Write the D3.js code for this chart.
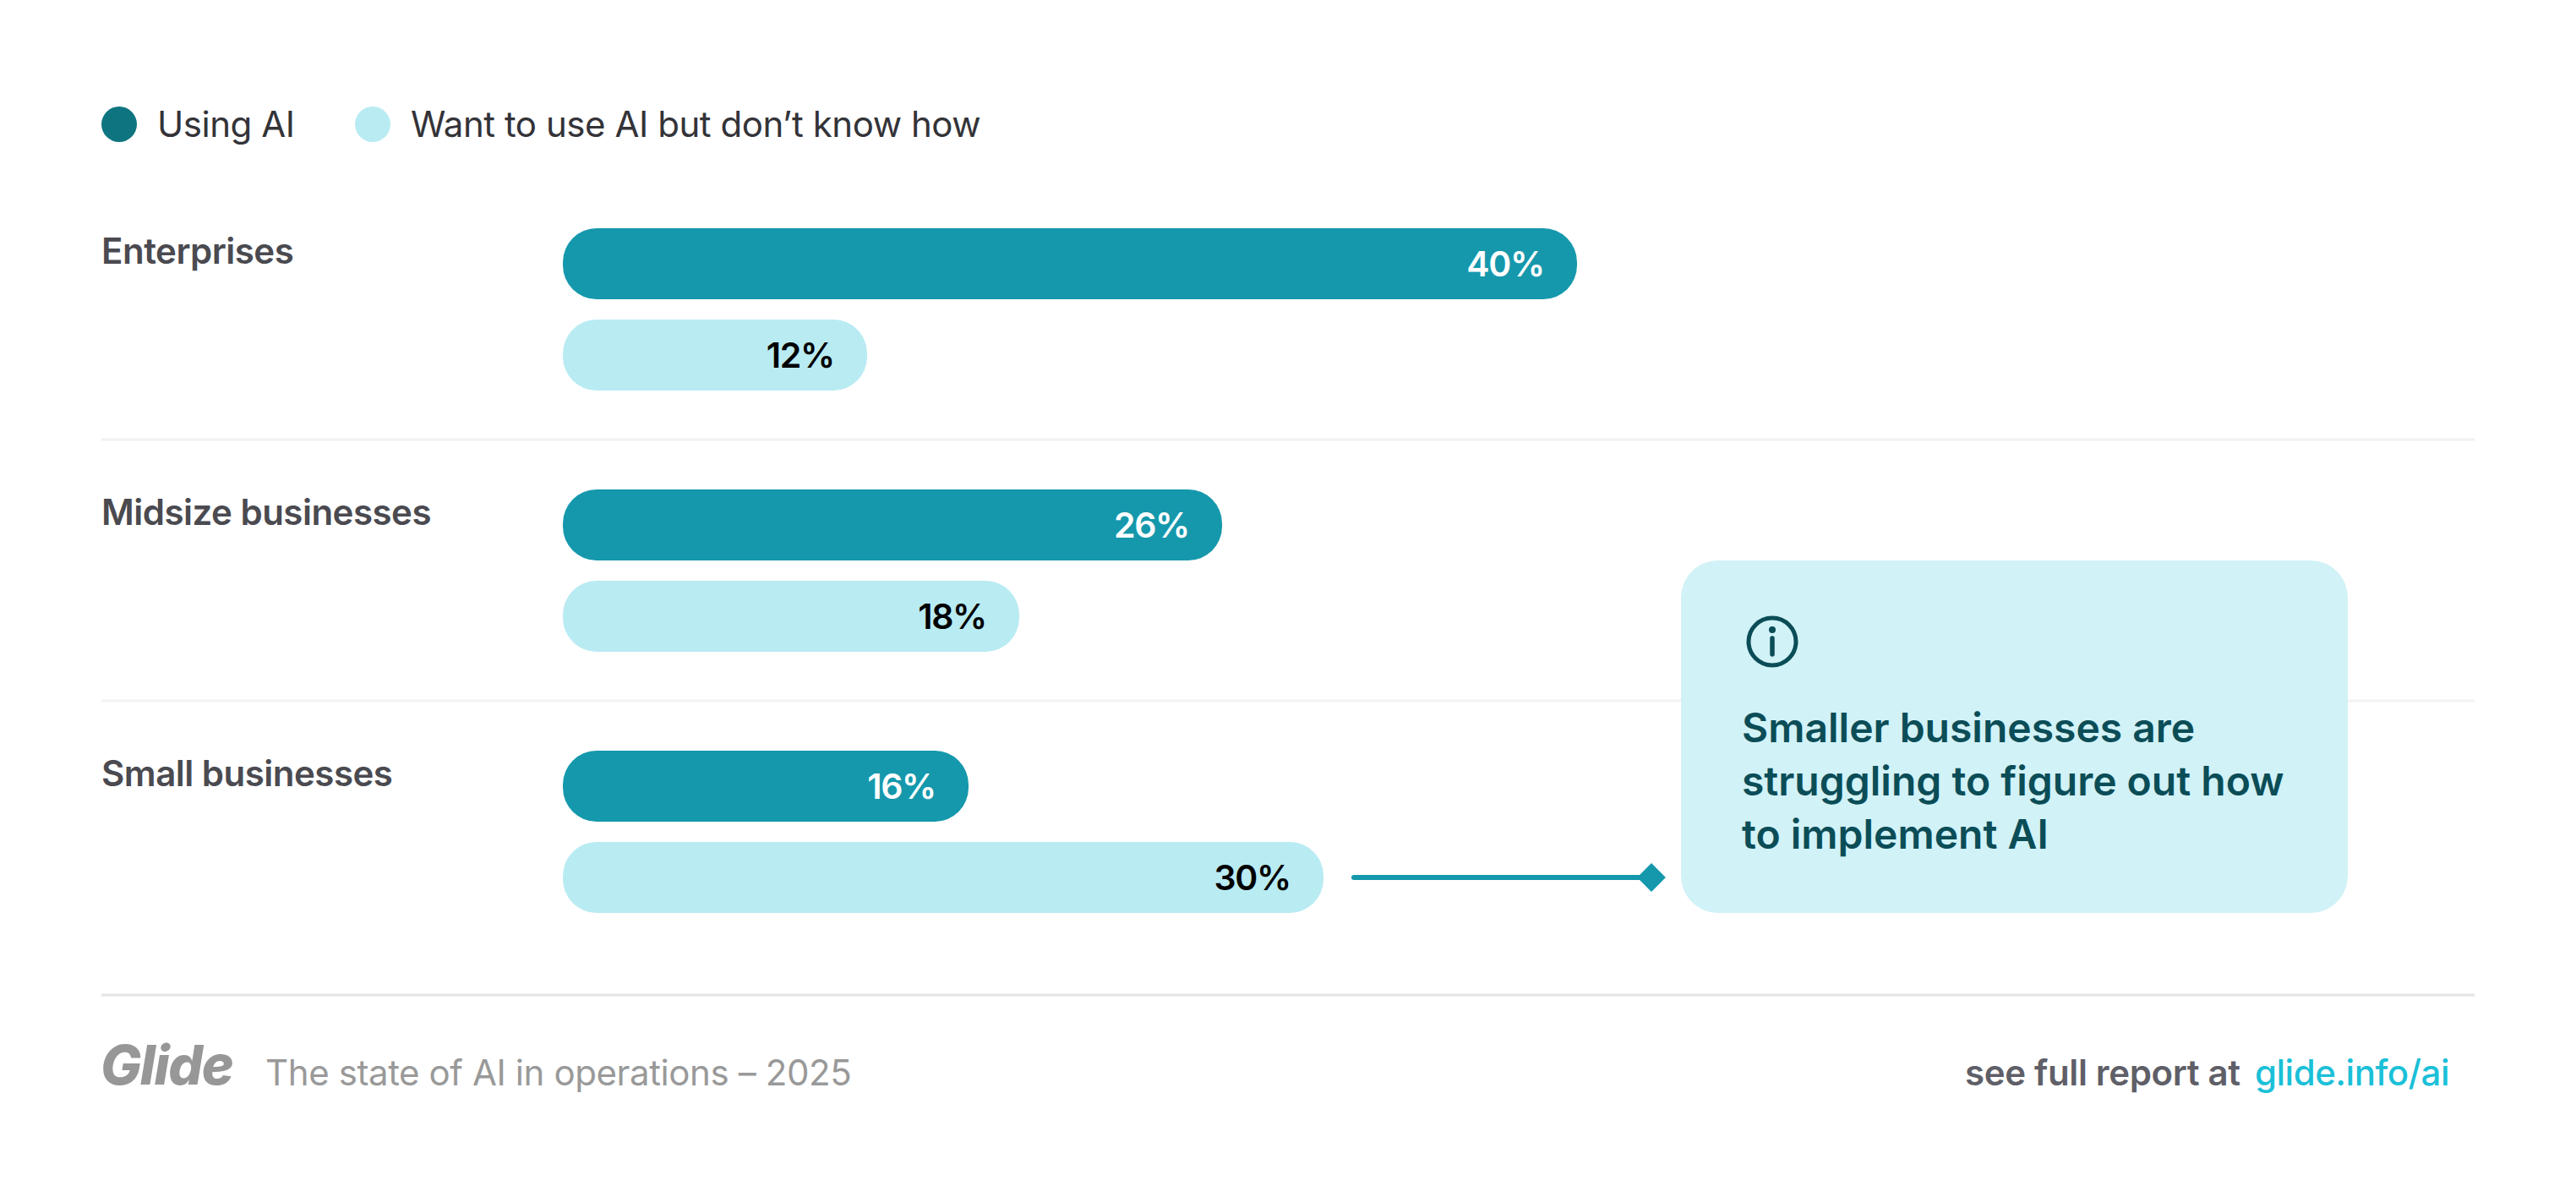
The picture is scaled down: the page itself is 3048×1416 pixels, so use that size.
<!DOCTYPE html>
<html lang="en">

<head>
    <meta charset="UTF-8">
    <script src="https://d3js.org/d3.v7.min.js"></script>
    <title>The state of AI in operations</title>
    <style>
        body {
            margin: 0;
            padding: 0;
            background-color: #fff;
        }

        svg {
            display: block;
        }

        text {
            font-family: Inter, "Noto Sans", sans-serif;
        }
    </style>
</head>

<body>
    <div id="chart"></div>

    <script>
        let categories = ["Enterprises", "Midsize businesses", "Small businesses"]
        let seriesNames = ["Using AI", "Want to use AI but don’t know how"]
        let usingAi = [40, 26, 16]
        let wantToUse = [12, 18, 30]
        let calloutLines = ["Smaller businesses are", "struggling to figure out how", "to implement AI"]

        let width = 3048
        let height = 1416

        let svg = d3.select("#chart").append("svg")
            .attr("width", width)
            .attr("height", height)

        let xScale = d3.scaleLinear().domain([0, 40]).range([666, 1866])
        let rowScale = d3.scalePoint().domain(categories).range([270, 888])
        let barScale = d3.scaleBand().domain(seriesNames).range([0, 192]).paddingInner(2 / 9)

        let barColors = d3.scaleOrdinal().domain(seriesNames).range(["#1598ac", "#b9ebf3"])
        let valueColors = d3.scaleOrdinal().domain(seriesNames).range(["#ffffff", "#000000"])
        let legendColors = d3.scaleOrdinal().domain(seriesNames).range(["#0e7480", "#b9ebf3"])

        // legend
        let legendX = [141, 441]
        let legend = svg.append("g").selectAll("g").data(seriesNames).enter().append("g")
            .attr("transform", (d, i) => "translate(" + legendX[i] + ",147)")
        legend.append("circle").attr("r", 21).attr("fill", d => legendColors(d))
        legend.append("text").text(d => d)
            .attr("x", 45).attr("y", 15)
            .attr("font-size", 42).attr("letter-spacing", -0.45).attr("fill", "#333338")

        // row separators
        svg.append("g").selectAll("line").data(categories.slice(1)).enter().append("line")
            .attr("x1", 120).attr("x2", 2928)
            .attr("y1", d => rowScale(d) - 59).attr("y2", d => rowScale(d) - 59)
            .attr("stroke", "#f2f2f2").attr("stroke-width", 3)

        // row labels
        svg.append("g").selectAll("text").data(categories).enter().append("text")
            .text(d => d)
            .attr("x", 120).attr("y", d => rowScale(d) + 42)
            .attr("font-size", 42).attr("font-weight", 600).attr("letter-spacing", -0.5).attr("fill", "#4a4a50")

        // bars
        let rows = categories.map((c, i) => [
            { category: c, series: seriesNames[0], value: usingAi[i] },
            { category: c, series: seriesNames[1], value: wantToUse[i] }
        ]).flat()

        let bars = svg.append("g").selectAll("g").data(rows).enter().append("g")
            .attr("transform", d => "translate(0," + (rowScale(d.category) + barScale(d.series)) + ")")

        bars.append("rect")
            .attr("x", xScale(0))
            .attr("width", d => xScale(d.value) - xScale(0))
            .attr("height", barScale.bandwidth())
            .attr("rx", 40)
            .attr("fill", d => barColors(d.series))

        bars.append("text").text(d => d.value + "%")
            .attr("x", d => xScale(d.value) - 39)
            .attr("y", 57)
            .attr("text-anchor", "end")
            .attr("font-size", 41).attr("font-weight", 600).attr("letter-spacing", -1.3)
            .attr("fill", d => valueColors(d.series))

        // callout
        let lineY = 1038
        svg.append("line")
            .attr("x1", 1602).attr("x2", 1954)
            .attr("y1", lineY).attr("y2", lineY)
            .attr("stroke", "#1598ac").attr("stroke-width", 6).attr("stroke-linecap", "round")
        svg.append("path")
            .attr("d", d3.symbol().type(d3.symbolSquare).size(570))
            .attr("transform", "translate(1954," + lineY + ") rotate(45)")
            .attr("fill", "#1598ac")

        svg.append("rect")
            .attr("x", 1989).attr("y", 663)
            .attr("width", 789).attr("height", 417)
            .attr("rx", 44)
            .attr("fill", "#d1f2f7")

        let info = svg.append("g").attr("transform", "translate(2097,759)")
        info.append("circle").attr("r", 28).attr("fill", "none").attr("stroke", "#0b4d57").attr("stroke-width", 5)
        info.append("circle").attr("cy", -14).attr("r", 4).attr("fill", "#0b4d57")
        info.append("line").attr("y1", -4).attr("y2", 15)
            .attr("stroke", "#0b4d57").attr("stroke-width", 5.5).attr("stroke-linecap", "round")

        svg.append("g").selectAll("text").data(calloutLines).enter().append("text")
            .text(d => d)
            .attr("x", 2061).attr("y", (d, i) => 878 + i * 63)
            .attr("font-size", 48).attr("font-weight", 600).attr("fill", "#0b4d57")

        // footer
        svg.append("line")
            .attr("x1", 120).attr("x2", 2928)
            .attr("y1", 1177).attr("y2", 1177)
            .attr("stroke", "#e4e4e4").attr("stroke-width", 3)

        svg.append("text").text("Glide")
            .attr("x", 119).attr("y", 1283)
            .attr("font-size", 64).attr("font-weight", 800).attr("font-style", "italic")
            .attr("letter-spacing", -1.4).attr("fill", "#979797")

        svg.append("text").text("The state of AI in operations – 2025")
            .attr("x", 314).attr("y", 1284)
            .attr("font-size", 42).attr("letter-spacing", -0.4).attr("fill", "#999999")

        svg.append("text").text("see full report at")
            .attr("x", 2325).attr("y", 1284)
            .attr("font-size", 42).attr("font-weight", 600).attr("letter-spacing", -0.35).attr("fill", "#5f5f68")

        svg.append("text").text("glide.info/ai")
            .attr("x", 2668).attr("y", 1284)
            .attr("font-size", 42).attr("font-weight", 500).attr("letter-spacing", -0.5).attr("fill", "#1bc0d8")
    </script>
</body>

</html>
